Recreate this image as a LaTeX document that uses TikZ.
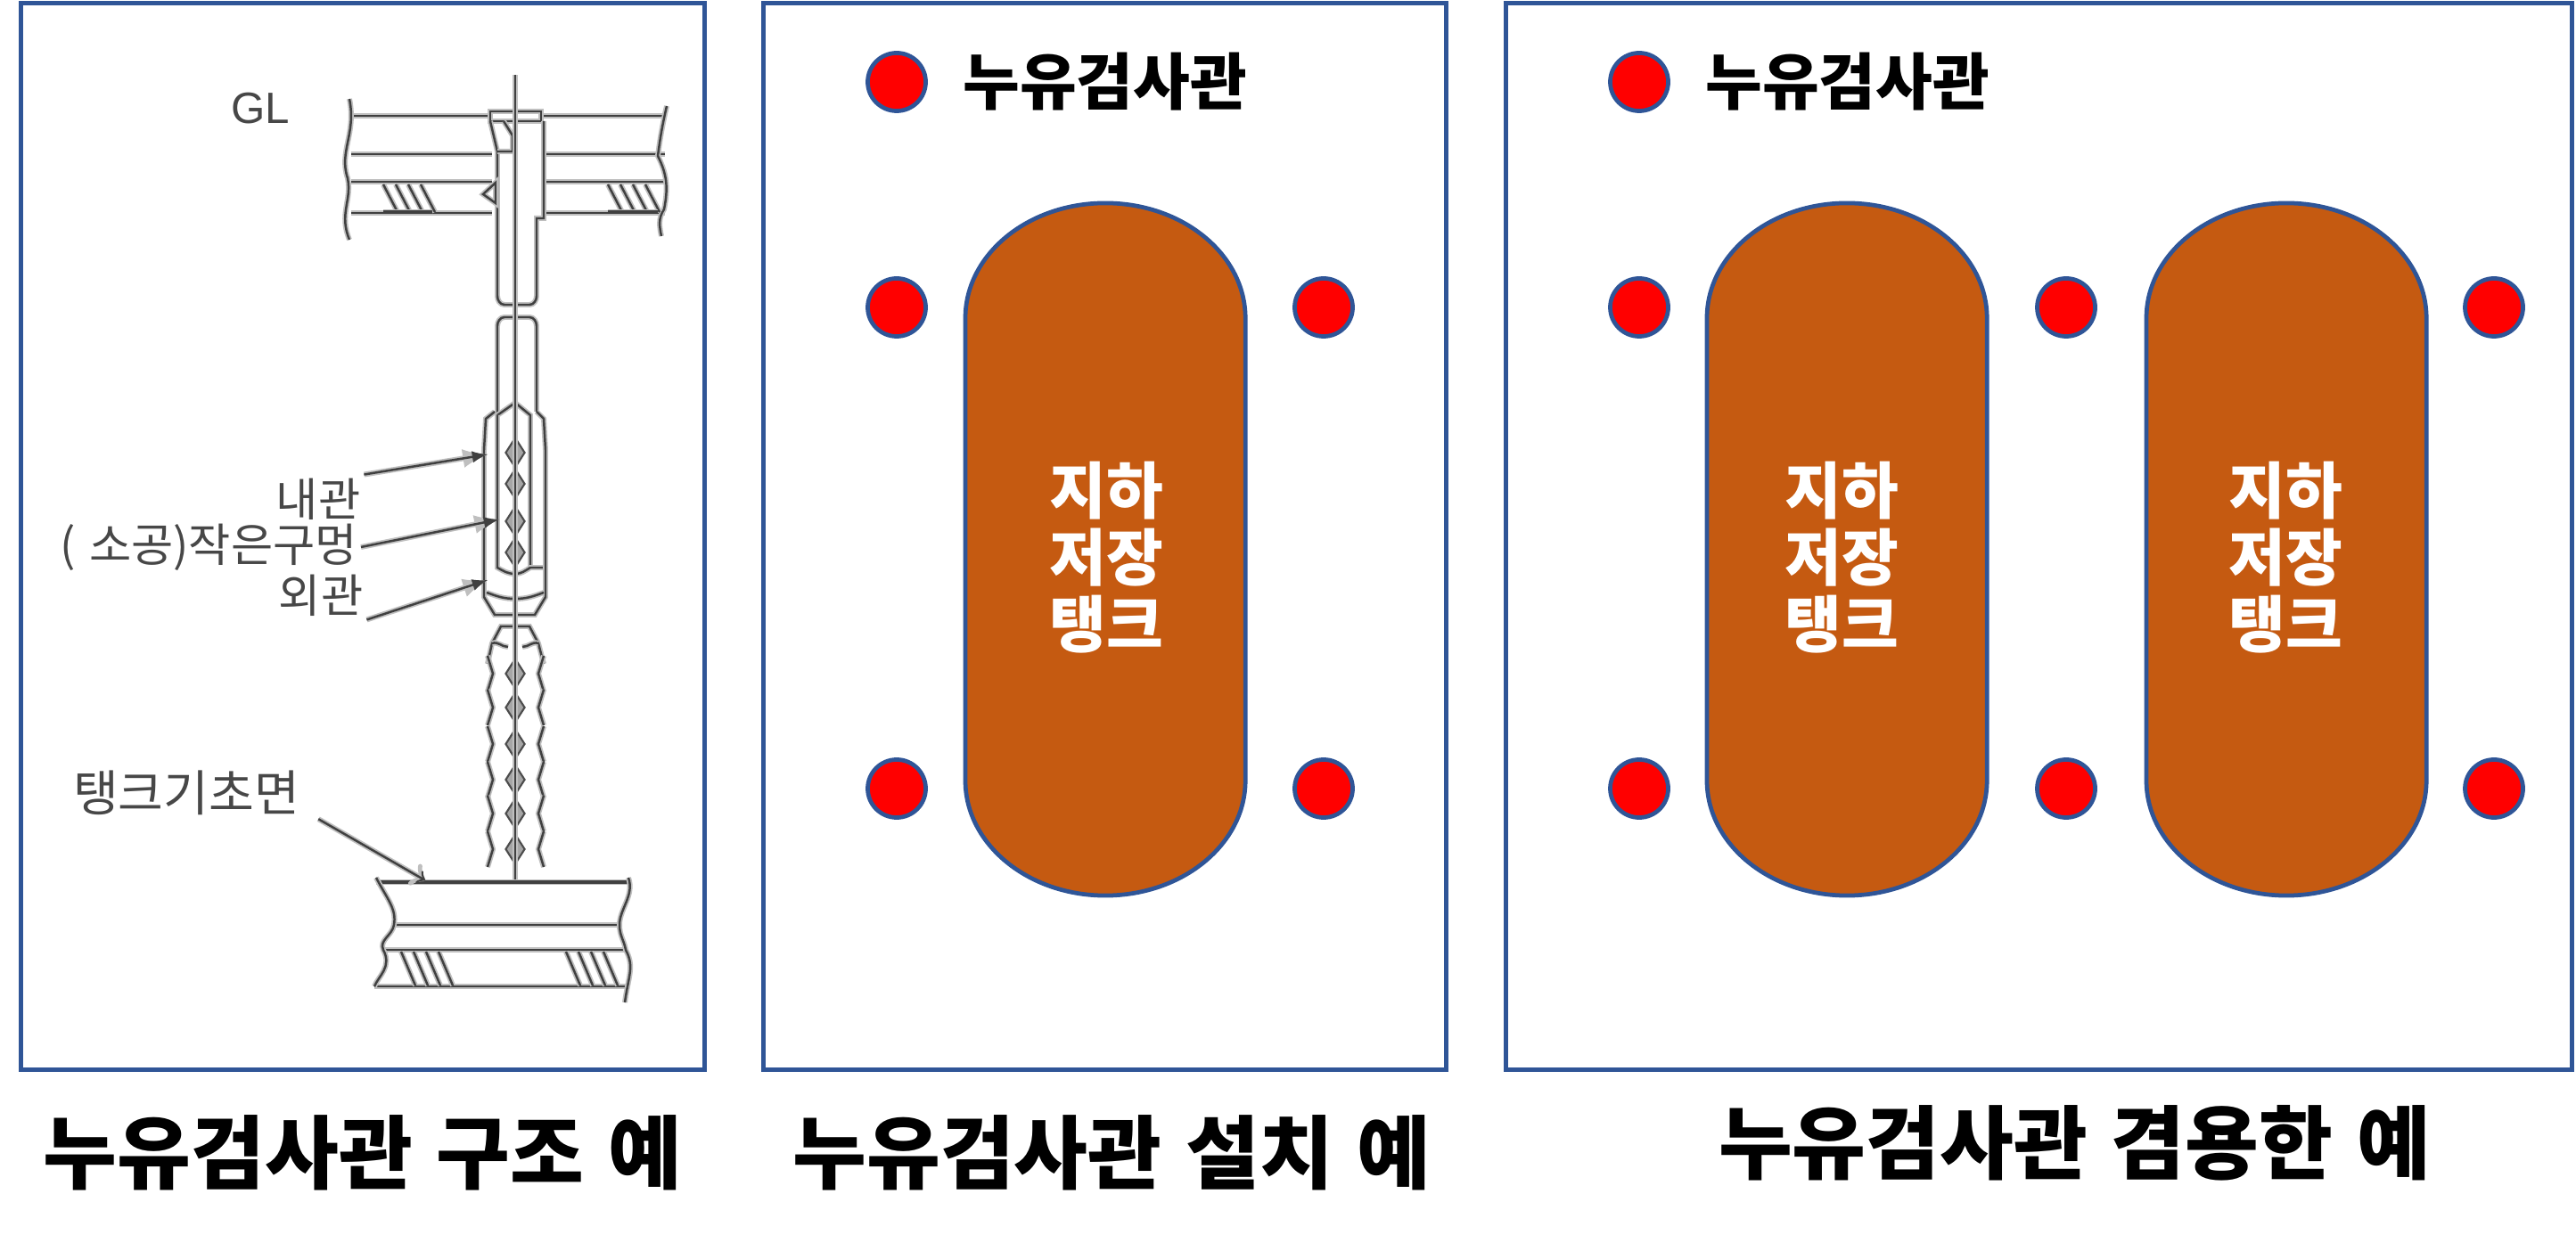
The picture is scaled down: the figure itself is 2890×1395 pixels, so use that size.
\documentclass[tikz,border=0pt]{standalone}
\usepackage{fontspec}
\setmainfont[WordSpace=1.3]{Noto Sans CJK KR}
\setsansfont{Liberation Sans}
\usepackage{tikz}
\usetikzlibrary{positioning,shapes,arrows,calc}

\definecolor{panelblue}{HTML}{2F5597}
\definecolor{tankbrown}{HTML}{C55A11}

\begin{document}
\begin{tikzpicture}[
    x=0.01cm, y=-0.01cm,
    >=latex,
    panel/.style={rectangle, draw=panelblue, line width=1.35pt, inner sep=0pt},
    probe/.style={circle, draw=panelblue, line width=1.35pt, fill=red, inner sep=0pt, minimum size=0.65cm},
    legendtext/.style={font=\fontsize{19.7}{24}\selectfont\bfseries},
    tankbody/.style={draw=panelblue, line width=1.35pt, fill=tankbrown},
    tanktext/.style={text=white, align=center, inner sep=0pt, font=\fontsize{19.7}{21.3}\selectfont\bfseries},
    caption/.style={font=\fontsize{25.6}{30}\selectfont\bfseries, inner sep=0pt},
    sketch/.style={draw=black!75, line width=0.7pt, preaction={draw=black!25, line width=1.7pt}},
    sketchlabel/.style={text=black!72, inner sep=1pt, font=\fontsize{14.6}{17}\selectfont},
    leader/.style={sketch, ->},
    hole/.style={diamond, draw=black!70, fill=black!35, line width=0.6pt, inner sep=0pt, minimum width=0.22cm, minimum height=0.34cm},
]
\useasboundingbox (0,0) rectangle (2890,1395);

% Panels
\node[panel, minimum width=7.66cm, minimum height=11.96cm] (panelA) at (407,602) {};
\node[panel, minimum width=7.65cm, minimum height=11.96cm] (panelB) at (1239.5,602) {};
\node[panel, minimum width=11.95cm, minimum height=11.96cm] (panelC) at (2287.5,602) {};

% Captions
\node[caption, below=0.48cm of panelA] (captionA) {누유검사관 구조 예};
\node[caption, below=0.48cm of panelB, xshift=0.08cm] (captionB) {누유검사관 설치 예};
\node[caption, below=0.37cm of panelC, xshift=0.40cm] (captionC) {누유검사관 겸용한 예};

% Tanks
\foreach \cx/\tx/\name in {1240/1241/tankA,2072/2066/tankB,2565/2564/tankC} {
    \path[tankbody] (\cx-157,357) arc[start angle=180, end angle=0, x radius=1.57cm, y radius=1.29cm]
        -- ++(0,519) arc[start angle=0, end angle=-180, x radius=1.57cm, y radius=1.29cm] -- cycle;
    \node[tanktext] (\name) at (\tx,626) {지하\\저장\\탱크};
}

% Leak test pipes
\node[probe] (legendB) at (1006,92) {};
\node[legendtext, right=0.27cm of legendB] {누유검사관};
\node[probe] (legendC) at (1839,92) {};
\node[legendtext, right=0.27cm of legendC] {누유검사관};
\foreach \px/\py in {1006/345,1485/345,1006/885,1485/885,1839/345,2318/345,2798/345,1839/885,2318/885,2798/885} {
    \node[probe] (probe\px\py) at (\px,\py) {};
}

% Sketch: ground layers
\foreach \yy in {130,173,204,239} {
    \draw[sketch] (394,\yy) -- (552,\yy);
    \draw[sketch] (608,\yy) -- (746,\yy);
}
\draw[sketch] (392,111) .. controls (400,150) and (380,170) .. (390,200) .. controls (395,225) and (380,240) .. (392,269);
\draw[sketch] (748,119) .. controls (742,145) and (740,160) .. (738,175) .. controls (748,195) and (750,210) .. (745,235) .. controls (738,245) and (740,255) .. (742,265);
\foreach \i in {0,...,3} {
    \draw[sketch] (430+\i*14,207) -- (446+\i*14,238);
    \draw[sketch] (682+\i*14,207) -- (698+\i*14,238);
}
\draw[sketch, line width=0.9pt] (430,238) -- (485,238) (682,238) -- (738,238);

% Sketch: upper pipe
\draw[sketch] (550,125) -- (607,125) -- (607,136) -- (550,136) -- cycle;
\draw[sketch] (550,136) -- (558,170) -- (558,332) to[out=-90, in=180] (566,342) -- (594,342) to[out=0, in=-90] (602,332) -- (602,245) -- (610,245) -- (610,136);
\draw[sketch] (558,170) -- (575,170) -- (575,152) -- (565,136);
\draw[sketch] (556,205) -- (542,218) -- (556,228) -- cycle;

% Sketch: socket
\draw[sketch] (558,466) -- (558,366) to[out=90, in=180] (566,356) -- (594,356) to[out=0, in=90] (602,366) -- (602,462);
\draw[sketch] (558,466) -- (578,452) -- (595,466) -- (595,637);
\draw[sketch] (558,466) -- (558,637) to[out=-30, in=180] (578,644) to[out=0, in=210] (595,637) -- (612,637);
\draw[sketch] (555,462) -- (545,470) -- (543,505) -- (543,670) -- (555,690) -- (600,690) -- (612,670) -- (612,505) -- (610,470) -- (602,462);
\draw[sketch] (546,665) to[out=-20, in=180] (578,672) to[out=0, in=200] (610,665);
\foreach \hy in {508,543,585,620} {
    \node[hole] (socket\hy) at (578,\hy) {};
}

% Sketch: lower pipe
\draw[sketch] (547,745) -- (552,722) -- (562,703) -- (594,703) -- (604,722) -- (610,745);
\draw[sketch] (552,722) to[out=20, in=180] (570,726) (586,726) to[out=0, in=160] (604,722);
\foreach \hy in {756,794,835,875,913,953} {
    \node[hole] (pipe\hy) at (578,\hy) {};
    \draw[sketch] (547,\hy-20) -- (553,\hy) -- (547,\hy+20);
    \draw[sketch] (610,\hy-20) -- (604,\hy) -- (610,\hy+20);
}

% Sketch: center line
\draw[sketch, line width=0.4pt] (578,84) -- (578,990);

% Sketch: foundation
\draw[sketch, line width=0.9pt] (422,990) -- (707,990);
\draw[sketch] (442,1038) -- (695,1038);
\draw[sketch] (430,1066) -- (702,1066);
\draw[sketch, line width=0.8pt] (420,1107) -- (702,1107);
\draw[sketch] (422,985) .. controls (435,1010) and (445,1020) .. (442,1038) .. controls (440,1050) and (425,1055) .. (430,1066) .. controls (440,1085) and (425,1095) .. (420,1107);
\draw[sketch] (705,985) .. controls (712,1005) and (695,1020) .. (695,1038) .. controls (695,1050) and (700,1055) .. (702,1066) .. controls (712,1085) and (705,1095) .. (701,1125);
\foreach \i in {0,...,3} {
    \draw[sketch] (450+\i*14,1068) -- (466+\i*14,1106);
    \draw[sketch] (635+\i*14,1068) -- (651+\i*14,1106);
}

% Sketch: labels
\node[sketchlabel, font=\fontsize{14}{17}\selectfont\sffamily] (labelGL) at (292,122) {GL};
\node[sketchlabel] (labelInner) at (357,560) {내관};
\node[sketchlabel, left=0pt of {$(405,614)$}] (labelHole) {( 소공)작은구멍};
\node[sketchlabel] (labelOuter) at (360,668) {외관};
\node[sketchlabel, font=\fontsize{15.7}{18}\selectfont] (labelBase) at (209,890) {탱크기초면};

\coordinate (tipInner) at (547,510);
\coordinate (tipHole) at (560,583);
\coordinate (tipOuter) at (547,651);
\coordinate (tipBase) at (477,988);

\draw[leader] (labelInner.north east) -- (tipInner);
\draw[leader] (labelHole.east) -- (tipHole);
\draw[leader] (labelOuter.south east) -- (tipOuter);
\draw[leader, >=to] (labelBase.south east) ++(0.17cm,0) -- (tipBase);

\end{tikzpicture}
\end{document}
